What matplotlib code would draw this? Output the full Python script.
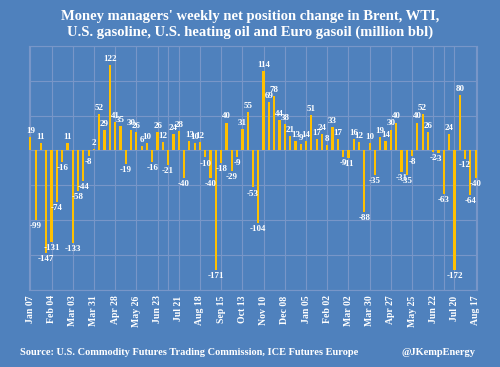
import matplotlib
matplotlib.use("Agg")
import matplotlib.pyplot as plt
import numpy as np

values = [19, -99, 11, -147, -131, -74, -16, 11, -133, -58,
          -44, -8, 2, 52, 29, 122, 41, 35, -19, 30,
          26, 6, 10, -16, 26, 12, -21, 24, 28, -40,
          13, 10, 12, -10, -40, -171, -18, 40, -29, -9,
          31, 55, -53, -104, 114, 69, 78, 44, 38, 21,
          13, 9, 14, 51, 17, 24, 8, 33, 17, -9,
          -11, 16, 12, -88, 10, -35, 19, 14, 30, 40,
          -31, -35, -8, 40, 52, 26, -2, -3, -63, 24,
          -172, 80, -12, -64, -40]
tick_labels = ["Jan 07", "Feb 04", "Mar 03", "Mar 31", "Apr 28", "May 26",
               "Jun 23", "Jul 21", "Aug 18", "Sep 15", "Oct 13", "Nov 10",
               "Dec 08", "Jan 05", "Feb 02", "Mar 02", "Mar 30", "Apr 27",
               "May 25", "Jun 22", "Jul 20", "Aug 17"]
title = ("Money managers' weekly net position change in Brent, WTI,\n"
         "U.S. gasoline, U.S. heating oil and Euro gasoil (million bbl)")
source = "Source: U.S. Commodity Futures Trading Commission, ICE Futures Europe"
handle = "@JKempEnergy"

BG = "#4F81BD"
BAR = "#FFC000"
GRID = "#7896C8"
FONT = ["Liberation Serif", "DejaVu Serif"]

plt.rcParams['font.family'] = FONT

fig = plt.figure(figsize=(5.0, 3.67), dpi=100, facecolor=BG)
ax = fig.add_axes([0.058, 0.210, 0.896, 0.665])
ax.set_facecolor(BG)

x = np.arange(len(values))
ax.bar(x, values, width=0.42, color=BAR, zorder=3)

ax.set_xlim(-0.25, len(values) - 0.75)
ax.set_ylim(-200, 150)
ax.set_yticks(np.arange(-200, 151, 50))
ax.set_yticklabels([])
ax.tick_params(axis='y', length=0)

tick_pos = x[::4]
ax.set_xticks(tick_pos)
ax.set_xticklabels(tick_labels, rotation=90, color="white", fontsize=7,
                   fontweight="bold")
ax.tick_params(axis='x', length=0, pad=4)

ax.grid(True, color=GRID, linewidth=0.8, zorder=0)
for extra in [26, 78]:
    ax.axvline(extra, color=GRID, linewidth=0.8, zorder=0)
for s in ax.spines.values():
    s.set_color(GRID)
    s.set_linewidth(0.8)

for xi, v in zip(x, values):
    if v >= 0:
        ax.annotate(str(v), (xi, v), xytext=(0, 1.5), textcoords="offset points",
                    ha="center", va="bottom", color="white", fontsize=6.5,
                    fontweight="bold", zorder=4)
    else:
        ax.annotate(str(v), (xi, v), xytext=(0, -1.5), textcoords="offset points",
                    ha="center", va="top", color="white", fontsize=6.5,
                    fontweight="bold", zorder=4)

fig.text(0.5, 0.933, title, ha="center", va="center", color="white",
         fontsize=10.5, fontweight="bold", linespacing=1.25)
fig.text(0.04, 0.04, source, ha="left", va="center", color="white",
         fontsize=7.5, fontweight="bold")
fig.text(0.95, 0.04, handle, ha="right", va="center", color="white",
         fontsize=7.5, fontweight="bold")

fig.savefig("out.png", dpi=100, facecolor=BG)
